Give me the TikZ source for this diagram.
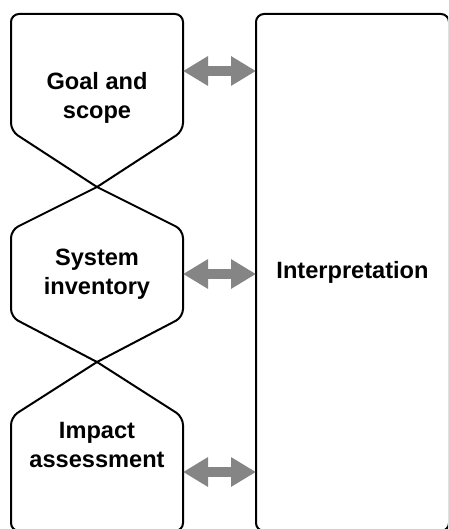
\documentclass[tikz,border=0pt]{standalone}
\usepackage{fontspec}
\setmainfont{Liberation Sans}
\usetikzlibrary{arrows.meta}
\tikzset{
	outline/.style={line width=2pt, line cap=round, rounded corners=8pt},
	stagetext/.style={font=\bfseries\fontsize{23.6}{29}\selectfont, align=center},
	biarrow/.style={draw=black!48, line width=9.5pt, {Triangle[length=25pt,width=28pt]}-{Triangle[length=25pt,width=28pt]}}
}

\begin{document}
\begin{tikzpicture}[x=1pt, y=-1pt]
			%%%%% START %%%%%
			\useasboundingbox (0, 0) rectangle (448, 529);
			\clip (0, 0) rectangle (448, 529);
			
			% goal and scope
			\draw[outline] (97, 187) -- (11, 131) -- (11, 14) -- (183, 14) -- (183, 131) -- (97, 187);
			\node[stagetext] (goal) at (97, 97.5) {Goal and\\scope};
			\coordinate (goal-r) at (183, 71);
			
			% system inventory
			\draw[outline] (97, 187) -- (11, 230) -- (11, 317) -- (97, 362);
			\draw[outline] (97, 187) -- (183, 230) -- (183, 317) -- (97, 362);
			\node[stagetext] (inventory) at (97, 274.4) {System\\inventory};
			\coordinate (inventory-r) at (183, 274);
			
			% impact assessment
			\draw[outline] (97, 362) -- (11, 417) -- (11, 531) -- (183, 531) -- (183, 417) -- (97, 362);
			\node[stagetext] (impact) at (97, 444.5) {Impact\\assessment};
			\coordinate (impact-r) at (183, 472);
			
			% interpretation
			\node[stagetext, draw, line width=2pt, rounded corners=8pt, outer sep=0pt,
				minimum width=193pt, minimum height=517pt] (interp) at (352.5, 272.5) {Interpretation};
			
			\draw[biarrow] (goal-r) -- (goal-r -| interp.west);
			\draw[biarrow] (inventory-r) -- (inventory-r -| interp.west);
			\draw[biarrow] (impact-r) -- (impact-r -| interp.west);
			
			%%%%% END %%%%%
\end{tikzpicture}
\end{document}
